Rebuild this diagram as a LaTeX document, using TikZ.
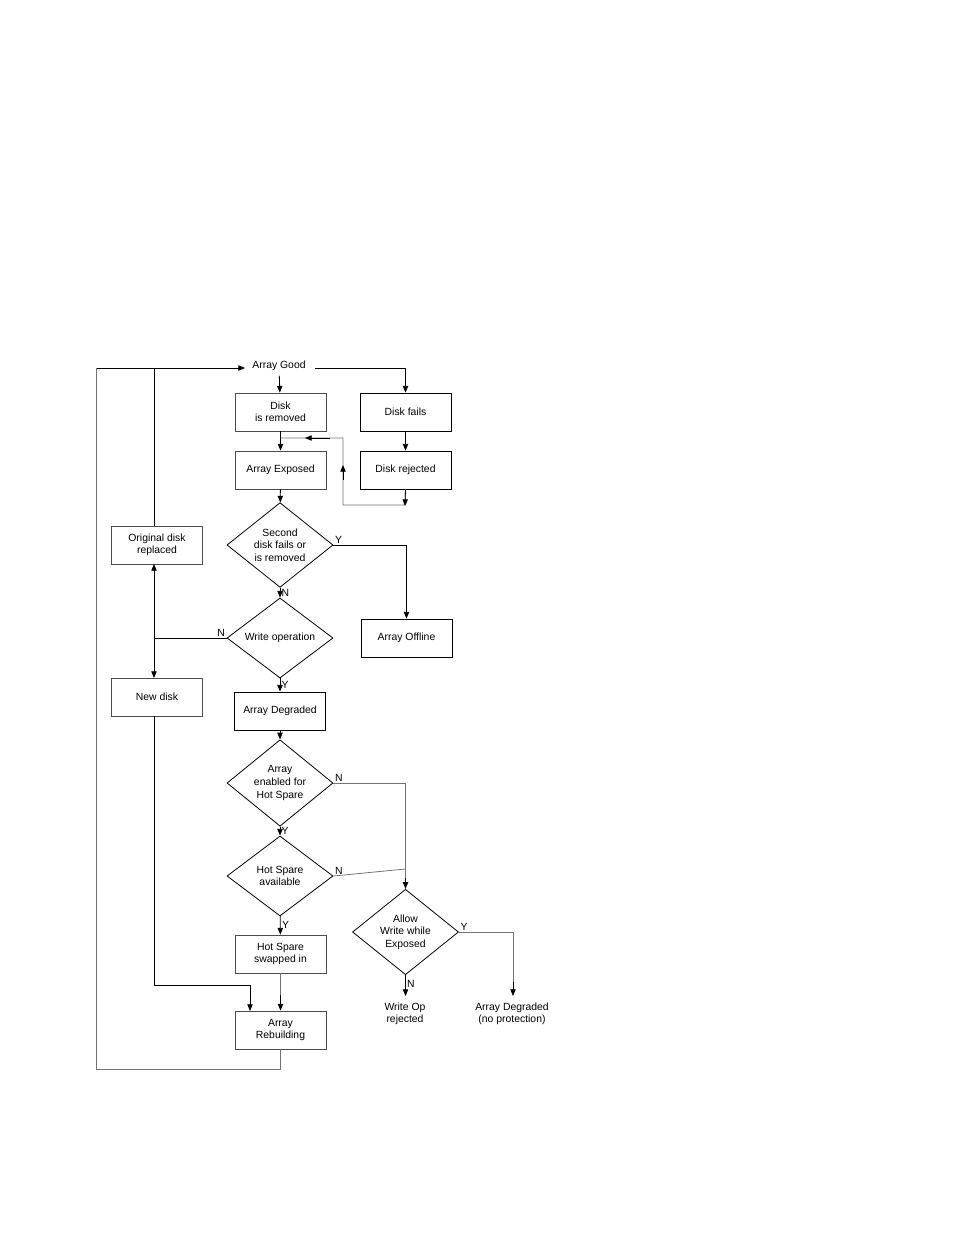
\documentclass[tikz,border=0pt]{standalone}
\usepackage{fontspec}
\setmainfont{Liberation Sans}
\usetikzlibrary{shapes.geometric,arrows.meta}
\begin{document}
\begin{tikzpicture}[x=0.75pt,y=-0.75pt,
  font=\fontsize{7.8}{9.4}\selectfont,
  box/.style={draw=#1,line width=0.6pt,minimum width=68.25pt,minimum height=28.5pt,inner sep=1pt,align=center},
  box/.default=black!70,
  dia/.style={draw=black,line width=0.6pt,diamond,minimum width=79.5pt,minimum height=60pt,inner sep=0pt,align=center},
  ln/.style={line width=0.6pt},
  gl/.style={line width=0.6pt,black!55},
  arr/.style={-{Triangle[length=5pt,width=4pt]}},
  lab/.style={font=\fontsize{7.8}{9}\selectfont,inner sep=1pt}]
\useasboundingbox (0,0) rectangle (954,1235);
\node (good) at (279,366) {Array Good};
\node[box] (rem) at (280.5,412) {Disk\\is removed};
\node[box=black] (fails) at (405.5,412) {Disk fails};
\node[box] (exp) at (280.5,470) {Array Exposed};
\node[box=black] (rej) at (405.5,470) {Disk rejected};
\node[dia] (d1) at (280,545) {Second\\disk fails or\\is removed};
\node[dia] (d2) at (280,638) {Write operation};
\node[box=black] (off) at (406.5,638) {Array Offline};
\node[box] (orig) at (157,545) {Original disk\\replaced};
\node[box] (new) at (157,697) {New disk};
\node[box=black] (deg) at (280,711) {Array Degraded};
\node[dia] (d3) at (280,783) {Array\\enabled for\\Hot Spare};
\node[dia] (d4) at (280,876) {Hot Spare\\available};
\node[box] (hs) at (280.5,954) {Hot Spare\\swapped in};
\node[box] (rb) at (280.5,1030) {Array\\Rebuilding};
\node[dia] (d5) at (405.5,932) {Allow\\Write while\\Exposed};
\node[align=center] (wo) at (405,1014) {Write Op\\rejected};
\node[align=center] (nop) at (512,1014) {Array Degraded\\(no protection)};
% top
\coordinate (gl) at (245,368);
\draw[ln,arr] (good) -- (rem);
\draw[ln,arr] (315,368) -| (fails);
\draw[ln,arr] (fails) -- (rej);
\draw[ln,arr] (rem) -- (exp);
\draw[gl] (rej.south) -- (405,505) -- (343,505) -- (343,438) -- (280.5,438);
\draw[ln,arr] (rej.south) -- (405,506);
\draw[ln,arr] (343,480) -- (343,465);
\draw[ln,arr] (330,438) -- (305,438);
\draw[ln,arr] (exp) -- (d1);
\draw[ln,arr] (d1) -- (d2) node[lab,pos=0.5,right=0pt] {N};
\draw[ln,arr] (d1.east) -| (off);
\node[lab,anchor=south west] at (d1.east) {Y};
% left
\draw[ln] (d2.west) -- (154,638);
\node[lab,anchor=south east] at (d2.west) {N};
\draw[ln,arr] (154,638) -- (154,564);
\draw[ln,arr] (154,638) -- (154,678);
\draw[ln] (154,526) -- (154,368);
\draw[ln,arr] (96,368) -- (gl);
\draw[gl] (rb.south) -- (280.5,1069) -- (96,1069) -- (96,368);
\draw[ln] (154,716) -- (154,985) -- (250,985);
\draw[ln,arr] (250,985) -- (250,1011);
\draw[ln,arr] (d2) -- (deg) node[lab,pos=0.5,right=0pt] {Y};
\draw[ln,arr] (deg) -- (d3);
\draw[ln,arr] (d3) -- (d4) node[lab,pos=0.45,right=0pt] {Y};
\draw[ln,arr] (d4) -- (hs) node[lab,pos=0.45,right=0pt] {Y};
\draw[gl] (hs) -- (280.5,1000);
\draw[ln,arr] (280.5,995) -- (rb);
\draw[gl] (d3.east) -- (405.5,783) -- (405.5,880);
\node[lab,anchor=south west] at (d3.east) {N};
\draw[gl] (d4.east) -- (405.5,869);
\node[lab,anchor=south west] at (d4.east) {N};
\draw[ln,arr] (405.5,878) -- (d5.north);
\draw[ln,arr] (d5) -- (405.5,996) node[lab,pos=0.4,right=0pt] {N};
\draw[gl] (d5.east) -- (513,932) -- (513,985);
\node[lab,anchor=south west] at (d5.east) {Y};
\draw[ln,arr] (513,982) -- (513,996);
\end{tikzpicture}
\end{document}
